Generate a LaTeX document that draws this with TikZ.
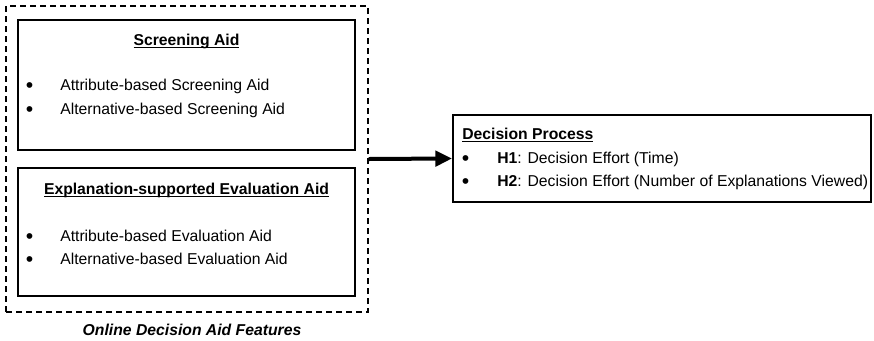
\documentclass[tikz,border=0pt]{standalone}
\usepackage{fontspec}
\setmainfont{Liberation Sans}
\usetikzlibrary{arrows.meta,positioning,fit}
\newlength{\pxu}
\setlength{\pxu}{0.75pt}
\newsavebox{\ulbox}
\newcommand{\ulx}[1]{\sbox{\ulbox}{#1}\rlap{\rule[-2.4pt]{\wd\ulbox}{1.1pt}}\usebox{\ulbox}}
\newcommand{\bpt}[1][27]{\makebox[0pt][r]{\raisebox{-1.6pt}{\scalebox{1.35}{\textbullet}}\hspace{#1\pxu}}}

\begin{document}
\begin{tikzpicture}[x=0.75pt, y=-0.75pt,
    every node/.style={font=\fontsize{11.8}{14}\selectfont},
    txt/.style={inner sep=0pt},
    heading/.style={txt, font=\fontsize{11.8}{14}\selectfont\bfseries},
    aidbox/.style={draw, line width=1.5pt, inner sep=0pt},
    groupbox/.style={draw, line width=1.1pt, inner sep=0pt,
      dash pattern=on 4.5pt off 3pt}]
  \useasboundingbox (0,0) rectangle (874,340);

  % Screening aid
  \node[aidbox, fit={(18,20) (355,150)}] (screen) {};
  \node[heading, anchor=base] (screentitle) at (186.5,45) {\ulx{Screening Aid}};
  \node[txt, anchor=base west] (screenA) at (60,90) {\bpt Attribute-based Screening Aid};
  \node[txt, anchor=base west] (screenB) at (60,114) {\bpt Alternative-based Screening Aid};

  % Evaluation aid
  \node[aidbox, fit={(18,168) (355,296)}] (evalu) {};
  \node[heading, anchor=base] (evaltitle) at (186.5,194) {\ulx{Explanation-supported Evaluation Aid}};
  \node[txt, anchor=base west] (evalA) at (60,241) {\bpt Attribute-based Evaluation Aid};
  \node[txt, anchor=base west] (evalB) at (60,264) {\bpt Alternative-based Evaluation Aid};

  % Group of features
  \node[groupbox, fit={(6,6) (368,312)}] (features) {};
  \node[heading, anchor=base, font=\fontsize{11.8}{14}\selectfont\bfseries\itshape]
    (featlabel) at (192,335) {Online Decision Aid Features};

  % Decision process
  \node[aidbox, fit={(453,115) (871,202)}] (decision) {};
  \node[heading, anchor=base west] (dectitle) at (462,139) {\ulx{Decision Process}};
  \node[txt, anchor=base west] (decA) at (497,163) {\bpt[28]\textbf{H1}: Decision Effort (Time)};
  \node[txt, anchor=base west] (decB) at (497,186) {\bpt[28]\textbf{H2}: Decision Effort (Number of Explanations Viewed)};

  \draw[line width=3pt, -{Triangle[length=12.5pt, width=11.5pt]}]
    (features.east) -- (decision.west);
\end{tikzpicture}
\end{document}
